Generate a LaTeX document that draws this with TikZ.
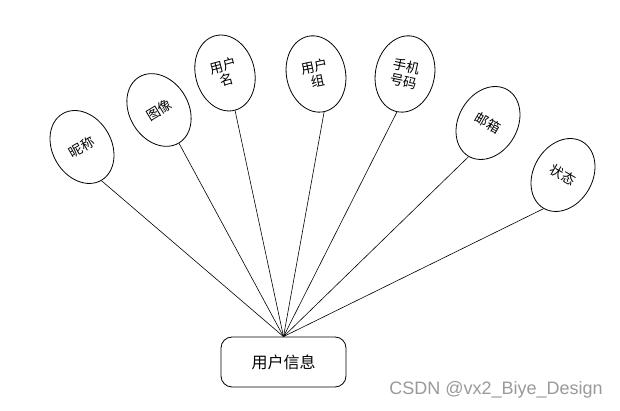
\documentclass[tikz,border=0pt]{standalone}
\usepackage{fontspec}
\setmainfont{Liberation Sans}
\newfontfamily\cjk{Noto Sans CJK SC}
\usetikzlibrary{shapes.geometric}
\begin{document}
\begin{tikzpicture}[x=1pt,y=1pt,
  attr/.style={ellipse,draw,line width=0.8pt,minimum width=59pt,minimum height=77pt,inner sep=0pt,align=center,font=\cjk\fontsize{13.5}{15}\selectfont},
  ent/.style={rectangle,rounded corners=11pt,draw,line width=0.8pt,minimum width=125pt,minimum height=50pt,font=\cjk\fontsize{16}{18}\selectfont},
  conn/.style={line width=0.6pt}]
\useasboundingbox (0,0) rectangle (620,411);
\node[ent] (info) at (283.5,49) {用户信息};
\node[attr,rotate=30] (e1) at (82,264) {昵称};
\node[attr,rotate=31] (e2) at (159,301) {图像};
\node[attr,rotate=15] (e3) at (225,338) {用户\\名};
\node[attr,rotate=12] (e4) at (316,337) {用户\\组};
\node[attr,rotate=-12] (e5) at (405,337) {手机\\号码};
\node[attr,rotate=-30] (e6) at (488,288) {邮箱};
\node[attr,rotate=-30] (e7) at (563,236) {状态};
\foreach \e in {e1,e2,e3,e4,e5,e6,e7}
  \draw[conn] (info.north) -- (\e.south);
\node[text=black!40,font=\fontsize{18}{20}\selectfont] (wm) at (496,21) {CSDN @vx2\_Biye\_Design};
\end{tikzpicture}
\end{document}
